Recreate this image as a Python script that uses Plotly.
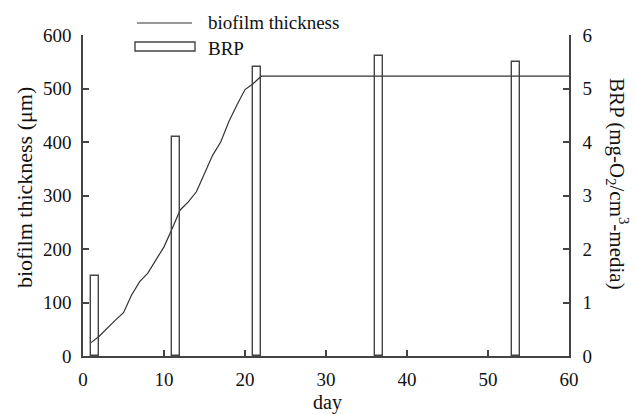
import plotly.graph_objects as go

# biofilm thickness (line, left axis)
thick_day = [1, 2, 4, 5, 6, 7, 8, 9, 10, 11, 12, 13, 14, 15, 16, 17, 18, 19, 20, 21, 22, 60]
thick_um = [25, 37, 67, 81, 114, 139, 155, 180, 204, 238, 273, 288, 307, 341, 375, 400, 438, 469, 498, 509, 523, 523]

# BRP (bars, right axis); each bar starts at the given day and spans one day
brp_day = [1, 11, 21, 36, 53]
brp_val = [1.5, 4.1, 5.4, 5.6, 5.5]

x_ticks = [0, 10, 20, 30, 40, 50, 60]
y1_ticks = [0, 100, 200, 300, 400, 500, 600]
y2_ticks = [0, 1, 2, 3, 4, 5, 6]

FONT = "Liberation Serif, Times New Roman, serif"
AX = "#444444"
TXT = "#111111"
TICK_SIZE = 19
TITLE_SIZE = 22
LEG_SIZE = 19

L, R, T, B = 83, 569, 35, 356
W, H = R - L, B - T


def px(xp):
    return (xp - L) / W


def py(yp):
    return (B - yp) / H


fig = go.Figure()
fig.add_trace(go.Bar(
    x=brp_day, y=brp_val, width=1, offset=0, yaxis="y2",
    marker=dict(color="rgba(255,255,255,0)", line=dict(color=AX, width=1.4)),
    showlegend=False, name="BRP",
))
fig.add_trace(go.Scatter(
    x=thick_day, y=thick_um, mode="lines", yaxis="y",
    line=dict(color="#333333", width=1.2), showlegend=False,
    name="biofilm thickness",
))

axis_common = dict(
    showgrid=False, zeroline=False, showline=True, linecolor=AX, linewidth=1.5,
    ticks="inside", ticklen=6, tickwidth=1.5, tickcolor=AX,
    tickfont=dict(family=FONT, size=TICK_SIZE, color=TXT),
)

fig.update_layout(
    width=636, height=414,
    margin=dict(l=L, r=636 - R, t=T, b=414 - B),
    paper_bgcolor="white", plot_bgcolor="white",
    font=dict(family=FONT, size=TICK_SIZE, color=TXT),
    bargap=0,
    xaxis=dict(range=[0, 60], tickvals=x_ticks, ticklabelstandoff=5, **axis_common),
    yaxis=dict(range=[0, 600], tickvals=y1_ticks, ticklabelstandoff=6, **axis_common),
    yaxis2=dict(range=[0, 6], tickvals=y2_ticks, overlaying="y", side="right",
                ticklabelstandoff=8, **axis_common),
    shapes=[
        dict(type="line", xref="paper", yref="paper", x0=px(137), x1=px(192),
             y0=py(23), y1=py(23), line=dict(color="#333333", width=1.2)),
        dict(type="rect", xref="paper", yref="paper", x0=px(135), x1=px(195),
             y0=py(51), y1=py(42), line=dict(color=AX, width=1.4), fillcolor="white"),
    ],
    annotations=[
        dict(text="biofilm thickness", xref="paper", yref="paper", x=px(206), y=py(22),
             xanchor="left", yanchor="middle", showarrow=False,
             font=dict(family=FONT, size=LEG_SIZE, color=TXT)),
        dict(text="BRP", xref="paper", yref="paper", x=px(206), y=py(48),
             xanchor="left", yanchor="middle", showarrow=False,
             font=dict(family=FONT, size=LEG_SIZE, color=TXT)),
        dict(text="day", xref="paper", yref="paper", x=px(327), y=py(402), borderpad=0,
             xanchor="center", yanchor="middle", showarrow=False,
             font=dict(family=FONT, size=20, color=TXT)),
        dict(text="biofilm thickness (μm)", xref="paper", yref="paper", x=px(24), y=py(188),
             textangle=-90, xanchor="center", yanchor="middle", showarrow=False,
             font=dict(family=FONT, size=TITLE_SIZE, color=TXT)),
        dict(text="BRP (mg-O<sub>2</sub>/cm<sup>3</sup>-media)", xref="paper", yref="paper",
             x=px(618), y=py(184), textangle=90, xanchor="center", yanchor="middle",
             showarrow=False, font=dict(family=FONT, size=21, color=TXT)),
    ],
)

fig.write_html(
    "out.html",
    config={"displayModeBar": False},
    post_script="document.body.style.margin='0';document.body.style.padding='0';"
                "document.body.style.overflow='hidden';",
)
